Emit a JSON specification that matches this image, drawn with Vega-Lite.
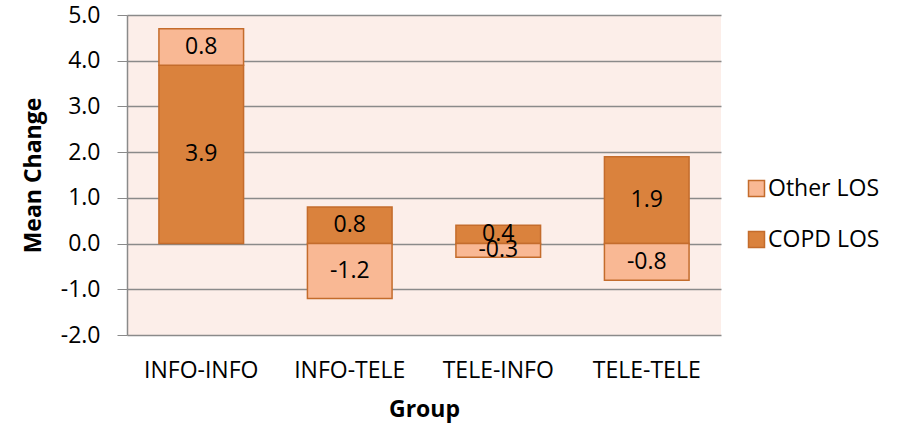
{
  "$schema": "https://vega.github.io/schema/vega-lite/v6.json",
  "width": 594,
  "height": 320,
  "autosize": {"type": "none"},
  "padding": {"left": 127, "top": 15, "right": 185, "bottom": 95},
  "background": "white",
  "config": {
    "view": {"fill": "#FCEEE9", "stroke": null},
    "font": "Open Sans",
    "axis": {"labelFont": "Open Sans", "titleFont": "Open Sans", "labelColor": "black", "titleColor": "black"}
  },
  "data": {
    "values": [
      {"Group": "INFO-INFO", "Series": "COPD LOS", "order": 1, "value": 3.9, "label": "3.9"},
      {"Group": "INFO-INFO", "Series": "Other LOS", "order": 2, "value": 0.8, "label": "0.8"},
      {"Group": "INFO-TELE", "Series": "COPD LOS", "order": 1, "value": 0.8, "label": "0.8"},
      {"Group": "INFO-TELE", "Series": "Other LOS", "order": 2, "value": -1.2, "label": "-1.2"},
      {"Group": "TELE-INFO", "Series": "COPD LOS", "order": 1, "value": 0.4, "label": "0.4"},
      {"Group": "TELE-INFO", "Series": "Other LOS", "order": 2, "value": -0.3, "label": "-0.3"},
      {"Group": "TELE-TELE", "Series": "COPD LOS", "order": 1, "value": 1.9, "label": "1.9"},
      {"Group": "TELE-TELE", "Series": "Other LOS", "order": 2, "value": -0.8, "label": "-0.8"}
    ]
  },
  "transform": [
    {"stack": "value", "groupby": ["Group"], "sort": [{"field": "order", "order": "ascending"}], "as": ["v0", "v1"]},
    {"calculate": "(datum.v0 + datum.v1) / 2", "as": "mid"}
  ],
  "encoding": {
    "x": {
      "field": "Group", "type": "nominal", "sort": null,
      "scale": {"paddingInner": 0.43, "paddingOuter": 0.215},
      "axis": {
        "title": "Group", "titleFontSize": 23, "titleFontWeight": "bold", "titlePadding": 16,
        "labelAngle": 0, "labelFontSize": 23, "labelPadding": 24, "ticks": false, "domain": false
      }
    }
  },
  "layer": [
    {
      "mark": {"type": "bar", "stroke": "#C46C2C", "strokeWidth": 1.5},
      "encoding": {
        "y": {
          "field": "v0", "type": "quantitative",
          "scale": {"domain": [-2, 5], "nice": false},
          "axis": {
            "title": "Mean Change", "titleFontSize": 23, "titleFontWeight": "bold", "titlePadding": 15,
            "values": [-2, -1, 0, 1, 2, 3, 4, 5], "labelExpr": "replace(format(datum.value, '.1f'), '\u2212', '-')",
            "labelFontSize": 23, "labelPadding": 17, "tickSize": 10, "tickColor": "#8A8A8A",
            "domainColor": "#8A8A8A", "domainWidth": 1.5, "gridColor": "#8A8A8A", "gridWidth": 1.5, "grid": true
          }
        },
        "y2": {"field": "v1"},
        "color": {
          "field": "Series", "type": "nominal",
          "scale": {"domain": ["Other LOS", "COPD LOS"], "range": ["#F9B894", "#DA823D"]},
          "legend": {
            "title": null, "orient": "none", "legendX": 618, "legendY": 162,
            "symbolType": "square", "symbolSize": 256, "symbolStrokeColor": "#C46C2C", "symbolStrokeWidth": 1.5,
            "labelFontSize": 23, "labelFont": "Open Sans", "labelColor": "black", "rowPadding": 27, "labelOffset": 0
          }
        }
      }
    },
    {
      "mark": {"type": "text", "fontSize": 23, "color": "black", "font": "Open Sans"},
      "encoding": {
        "y": {"field": "mid", "type": "quantitative"},
        "text": {"field": "label", "type": "nominal"}
      }
    }
  ]
}
